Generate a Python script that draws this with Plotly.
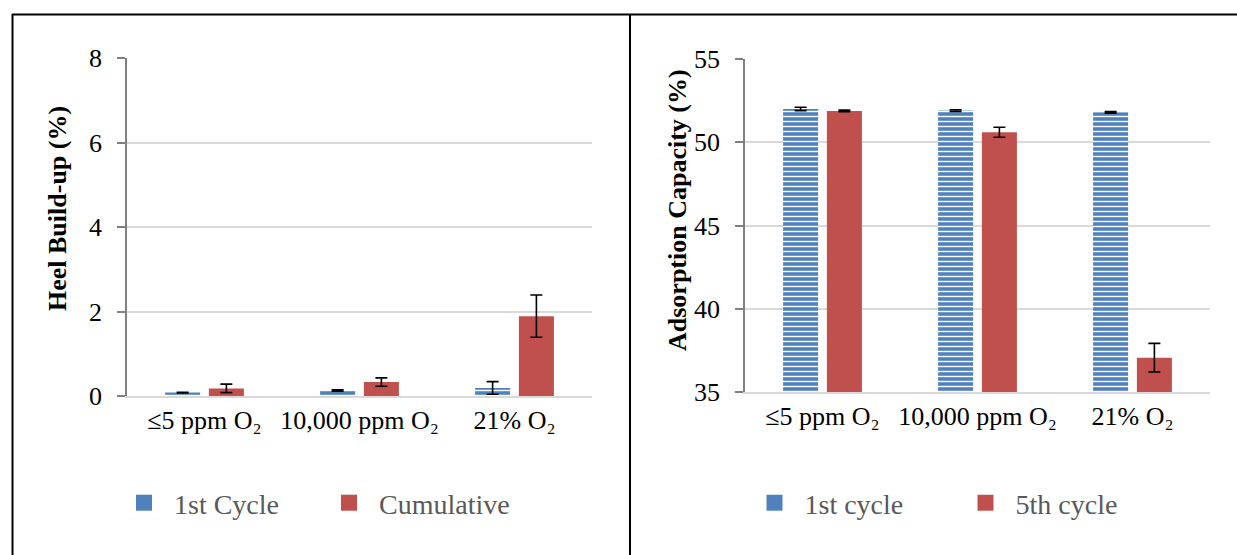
import plotly.graph_objects as go

W, H = 1237, 555

categories = ["≤5 ppm O₂", "10,000 ppm O₂", "21% O₂"]

# Left chart: Heel build-up (%)
heel_first = [0.08, 0.13, 0.19]
heel_first_err = [0.01, 0.015, 0.15]
heel_cum = [0.18, 0.33, 1.89]
heel_cum_err = [0.1, 0.1, 0.5]
heel_ticks = [0, 2, 4, 6, 8]

# Right chart: Adsorption capacity (%)
ads_first = [52.0, 51.9, 51.8]
ads_first_err = [0.1, 0.05, 0.05]
ads_fifth = [51.88, 50.6, 37.06]
ads_fifth_err = [0.05, 0.3, 0.86]
ads_ticks = [35, 40, 45, 50, 55]

BLUE = "#4F81BD"
RED = "#C0504D"
FONT = "Liberation Serif"

def px_x(p):
    return p / W

def px_y(p):
    return 1 - p / H

fig = go.Figure()

pattern = dict(shape="-", fgcolor="white", bgcolor=BLUE, size=5, solidity=0.28, fillmode="replace")
err_style = dict(type="data", color="black", thickness=1.6, width=6)

fig.add_trace(go.Bar(x=categories, y=heel_first, xaxis="x", yaxis="y", showlegend=False,
                     marker=dict(color=BLUE, pattern=pattern, line=dict(width=0)),
                     error_y=dict(array=heel_first_err, **err_style)))
fig.add_trace(go.Bar(x=categories, y=heel_cum, xaxis="x", yaxis="y", showlegend=False,
                     marker=dict(color=RED, line=dict(width=0)),
                     error_y=dict(array=heel_cum_err, **err_style)))
fig.add_trace(go.Bar(x=categories, y=ads_first, xaxis="x2", yaxis="y2", showlegend=False,
                     marker=dict(color=BLUE, pattern=pattern, line=dict(width=0)),
                     error_y=dict(array=ads_first_err, **err_style)))
fig.add_trace(go.Bar(x=categories, y=ads_fifth, xaxis="x2", yaxis="y2", showlegend=False,
                     marker=dict(color=RED, line=dict(width=0)),
                     error_y=dict(array=ads_fifth_err, **err_style)))

# legend entries (solid squares, as in the reference legend)
for name, color, xa, ya, lg in [("1st Cycle", BLUE, "x", "y", "legend"),
                                 ("Cumulative", RED, "x", "y", "legend"),
                                 ("1st cycle", BLUE, "x2", "y2", "legend2"),
                                 ("5th cycle", RED, "x2", "y2", "legend2")]:
    fig.add_trace(go.Scatter(x=[None], y=[None], mode="markers", name=name, xaxis=xa, yaxis=ya,
                             legend=lg, marker=dict(symbol="square", size=16, color=color)))

xaxis_common = dict(type="category", showgrid=False, showline=True, linecolor="#D9D9D9", linewidth=2,
                    ticks="", tickfont=dict(family=FONT, size=26, color="black"), fixedrange=True,
                    automargin=False)
yaxis_common = dict(showgrid=True, gridcolor="#D9D9D9", gridwidth=1.5, showline=True, linecolor="#808080",
                    linewidth=1.5, ticks="outside", ticklen=8, tickcolor="#808080", tickwidth=1.5,
                    tickfont=dict(family=FONT, size=26, color="black"), ticklabelstandoff=10,
                    zeroline=False, fixedrange=True, automargin=False)

fig.update_layout(
    width=W, height=H,
    margin=dict(l=0, r=0, t=0, b=0, autoexpand=False),
    paper_bgcolor="white", plot_bgcolor="white",
    barmode="group", bargap=0.435, bargroupgap=0.2,
    xaxis=dict(domain=[px_x(127), px_x(592)], anchor="y", **xaxis_common),
    yaxis=dict(domain=[px_y(396), px_y(58)], anchor="x", range=[0, 8], tickvals=heel_ticks, **yaxis_common),
    xaxis2=dict(domain=[px_x(745), px_x(1210)], anchor="y2", **xaxis_common),
    yaxis2=dict(domain=[px_y(392), px_y(59)], anchor="x2", range=[35, 55], tickvals=ads_ticks, **yaxis_common),
    legend=dict(orientation="h", x=px_x(114), y=px_y(503), xanchor="left", yanchor="middle",
                font=dict(family=FONT, size=28, color="#595959"), itemwidth=50,
                entrywidth=140, entrywidthmode="pixels", bgcolor="rgba(0,0,0,0)"),
    legend2=dict(orientation="h", x=px_x(744.5), y=px_y(503), xanchor="left", yanchor="middle",
                 font=dict(family=FONT, size=28, color="#595959"), itemwidth=50,
                 entrywidth=146, entrywidthmode="pixels", bgcolor="rgba(0,0,0,0)"),
    annotations=[
        dict(text="<b>Heel Build-up (%)</b>", x=px_x(58), y=px_y(209), xref="paper", yref="paper",
             xanchor="center", yanchor="middle",
             textangle=-90, showarrow=False, font=dict(family=FONT, size=26, color="black")),
        dict(text="<b>Adsorption Capacity (%)</b>", x=px_x(677), y=px_y(210), xref="paper", yref="paper",
             xanchor="center", yanchor="middle",
             textangle=-90, showarrow=False, font=dict(family=FONT, size=26, color="black")),
    ],
    shapes=[
        dict(type="line", xref="paper", yref="paper", x0=px_x(12), x1=1, y0=px_y(14.5), y1=px_y(14.5),
             line=dict(color="black", width=2)),
        dict(type="line", xref="paper", yref="paper", x0=px_x(12.5), x1=px_x(12.5), y0=0, y1=px_y(14),
             line=dict(color="black", width=2)),
        dict(type="line", xref="paper", yref="paper", x0=px_x(630), x1=px_x(630), y0=0, y1=px_y(14),
             line=dict(color="black", width=2)),
    ],
)

fig.write_html("out.html")
